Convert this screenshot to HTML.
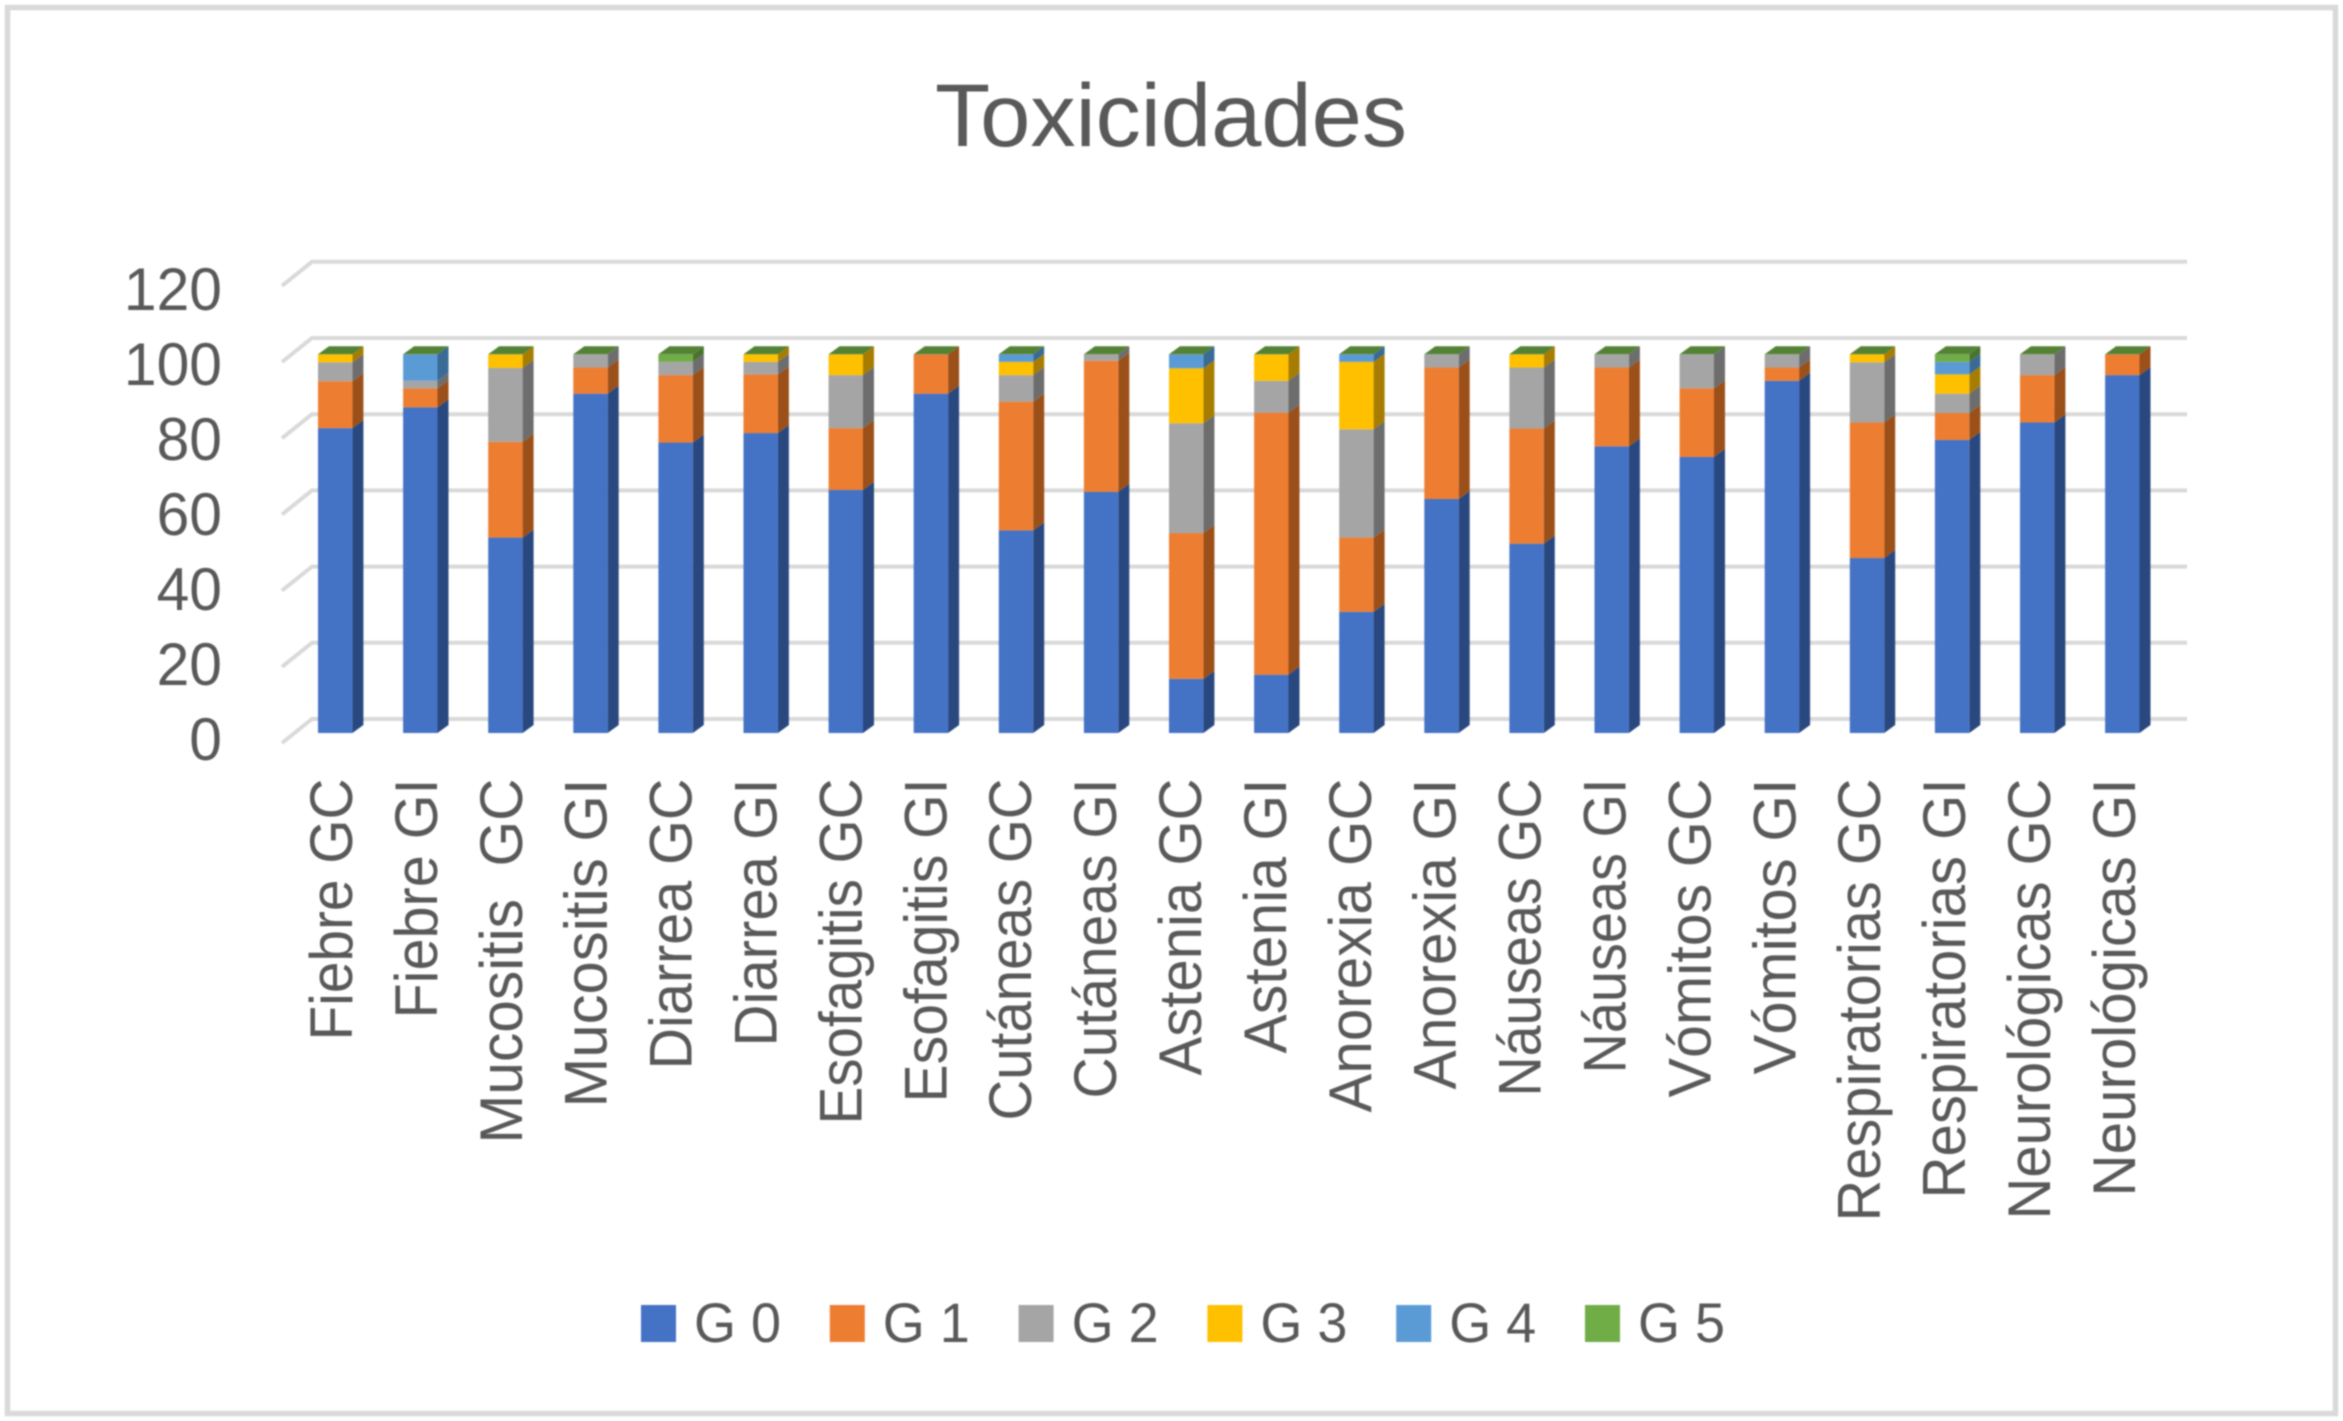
<!DOCTYPE html>
<html lang="es">
<head>
<meta charset="utf-8">
<title>Toxicidades</title>
<style>
  html, body { margin: 0; padding: 0; background: #fff; }
  body { width: 2343px; height: 1421px; overflow: hidden; }
  svg { display: block; filter: blur(0.7px); }
  text { font-family: "Liberation Sans", sans-serif; fill: #595959; white-space: pre; }
</style>
</head>
<body>
<svg id="chart" xmlns="http://www.w3.org/2000/svg" width="2343" height="1421" viewBox="0 0 2343 1421">
  <rect x="0" y="0" width="2343" height="1421" fill="#ffffff"/>
  <rect x="7.5" y="7.5" width="2328" height="1406" fill="#ffffff" stroke="#d9d9d9" stroke-width="5.5"/>
  <text x="935" y="146" font-size="89" textLength="472" lengthAdjust="spacingAndGlyphs">Toxicidades</text>
  <g id="grid"></g>
  <g id="yaxis"></g>
  <g id="bars"></g>
  <g id="xaxis"></g>
  <g id="legend"></g>
</svg>
<script>
const categories = ["Fiebre GC","Fiebre GI","Mucositis  GC","Mucositis GI","Diarrea GC","Diarrea GI","Esofagitis GC","Esofagitis GI","Cutáneas GC","Cutáneas GI","Astenia GC","Astenia GI","Anorexia GC","Anorexia GI","Náuseas GC","Náuseas GI","Vómitos GC","Vómitos GI","Respiratorias GC","Respiratorias GI","Neurológicas GC","Neurológicas GI"];
const g0 = [80.5,86,51.6,89.6,76.7,79.2,64.2,89.6,53.5,63.7,14.3,15.4,32,61.8,50,75.7,72.9,93,46.2,77.4,82,94.5];
const g1 = [12.4,5,25.3,6.9,17.8,15.5,16.3,10.4,34,34.6,38.5,69.2,19.6,34.7,30.4,20.8,18.1,3.5,35.8,7.1,12.5,5.5];
const g2 = [5,2,19.5,3.5,3.5,3.3,14,0,7,1.7,29,8.4,28.6,3.5,16.1,3.5,9,3.5,15.9,5.1,5.5,0];
const g3 = [2.1,0,3.6,0,0,2,5.5,0,3.5,0,14.5,7,17.8,0,3.5,0,0,0,2.1,5.1,0,0];
const g4 = [0,7,0,0,0,0,0,0,2,0,3.7,0,2,0,0,0,0,0,0,3.3,0,0];
const g5 = [0,0,0,0,2,0,0,0,0,0,0,0,0,0,0,0,0,0,0,2,0,0];
const seriesNames = ["G 0","G 1","G 2","G 3","G 4","G 5"];
const yTicks = [0,20,40,60,80,100,120];

const seriesValues = [g0,g1,g2,g3,g4,g5];
const frontColors = ["#4472c4","#ed7d31","#a5a5a5","#ffc000","#5b9bd5","#70ad47"];
const sideColors = ["#2a4880","#9b5019","#6d6d6d","#a67d00","#3a6a96","#4a7330"];
const SVGNS = "http://www.w3.org/2000/svg";
const barWidth = 34.4, depthX = 11, depthY = 8;
/* rendered advance of each rotated label, to match the wider source typeface */
const labelAdvance = [262,240,365,329,291,268,346,324,342,320,297,275,334,311,318,295,319,296,443,420,441,418];

function xScale(i) { return 318 + 85.1 * i; }
function yScale(v) { return 733 - 3.787 * v; }
function wallY(v) { return 719 - 3.81 * v; }
function tickBaseline(v) { return 760 - 3.75 * v; }
function labelBaseline(i) { return 352 + 84.9 * i; }
function legendX(i) { return 641 + 188.8 * i; }

function make(tag, parent, attrs) {
  const el = document.createElementNS(SVGNS, tag);
  for (const k in attrs) el.setAttribute(k, attrs[k]);
  parent.appendChild(el);
  return el;
}

const gridG = document.getElementById("grid");
const yG = document.getElementById("yaxis");
yTicks.forEach(function (t) {
  const wy = wallY(t);
  const line = make("polyline", gridG, {
    points: "282," + (wy + 24) + " 312," + wy + " 2187," + wy,
    fill: "none", stroke: "#d9d9d9", "stroke-width": 4
  });
  
  

  const lab = make("text", yG, {
    transform: "translate(222," + tickBaseline(t) + ") scale(0.98,1)",
    "text-anchor": "end", "font-size": 60
  });
  lab.textContent = String(t);
  
  
});

const barsG = document.getElementById("bars");
categories.forEach(function (cat, i) {
  const x = xScale(i);
  const slug = cat.toLowerCase().replace(/\s+/g, '-');
  const group = make("g", barsG, {});
  
  
  let acc = 0;
  seriesValues.forEach(function (vals, s) {
    const v = vals[i];
    if (v <= 0) return;
    const y0 = yScale(acc);
    const y1 = yScale(acc + v);
    acc += v;
    const side = make("polygon", group, {
      points: (x + barWidth) + "," + y0 + " " + (x + barWidth + depthX) + "," + (y0 - depthY) + " " +
              (x + barWidth + depthX) + "," + (y1 - depthY) + " " + (x + barWidth) + "," + y1,
      fill: sideColors[s]
    });
    
    
    const front = make("rect", group, {
      x: x, y: y1, width: barWidth, height: y0 - y1, fill: frontColors[s]
    });
    
    
  });
  const yt = yScale(acc);
  const top = make("polygon", group, {
    points: x + "," + yt + " " + (x + barWidth) + "," + yt + " " +
            (x + barWidth + depthX) + "," + (yt - depthY) + " " + (x + depthX) + "," + (yt - depthY),
    fill: "#548235"
  });
  
  
});

const xG = document.getElementById("xaxis");
categories.forEach(function (cat, i) {
  const t = make("text", xG, {
    transform: "translate(" + labelBaseline(i) + ",778.5) rotate(-90)",
    "text-anchor": "end", "font-size": 60,
    textLength: labelAdvance[i], lengthAdjust: "spacingAndGlyphs"
  });
  t.textContent = cat;
  
  
});

const legG = document.getElementById("legend");
seriesNames.forEach(function (name, i) {
  const lx = legendX(i);
  const entry = make("g", legG, {});
  
  
  const sw = make("rect", entry, { x: lx, y: 1305, width: 35, height: 37, fill: frontColors[i] });
  
  
  const tx = make("text", entry, {
    x: lx + 53, y: 1342, "font-size": 56, textLength: 87, lengthAdjust: "spacingAndGlyphs"
  });
  tx.textContent = name;
  
  
});
</script>
</body>
</html>
